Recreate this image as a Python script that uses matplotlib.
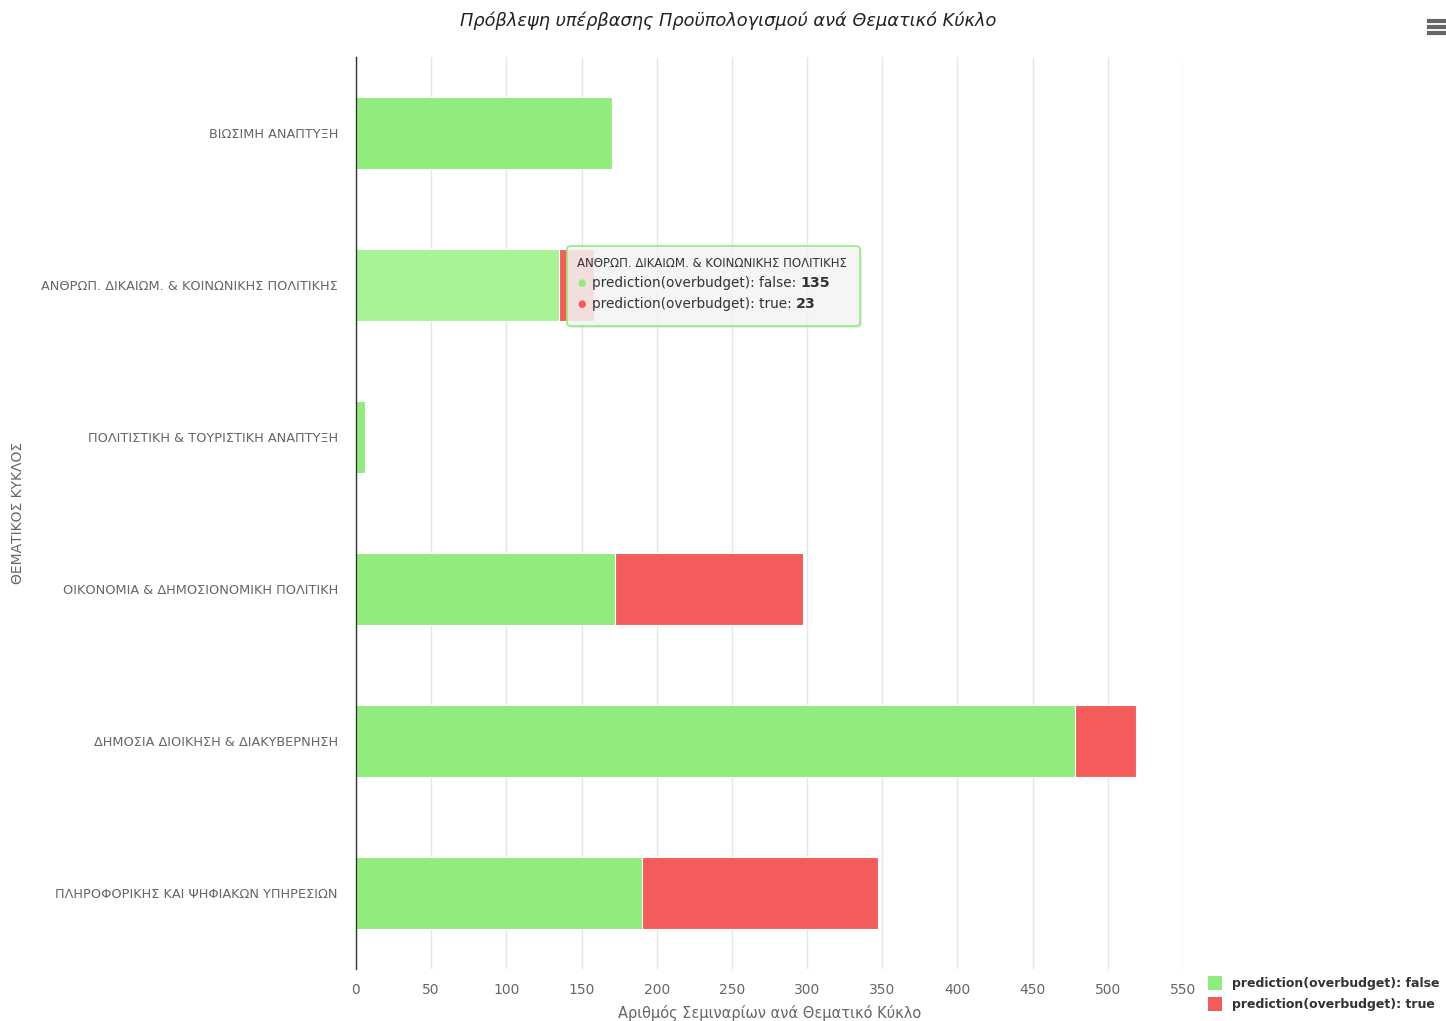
import matplotlib
matplotlib.use("Agg")
import matplotlib.pyplot as plt
from matplotlib.patches import FancyBboxPatch, Rectangle
from matplotlib.lines import Line2D

categories = [
    "ΒΙΩΣΙΜΗ ΑΝΑΠΤΥΞΗ",
    "ΑΝΘΡΩΠ. ΔΙΚΑΙΩΜ. & ΚΟΙΝΩΝΙΚΗΣ ΠΟΛΙΤΙΚΗΣ",
    "ΠΟΛΙΤΙΣΤΙΚΗ & ΤΟΥΡΙΣΤΙΚΗ ΑΝΑΠΤΥΞΗ",
    "ΟΙΚΟΝΟΜΙΑ & ΔΗΜΟΣΙΟΝΟΜΙΚΗ ΠΟΛΙΤΙΚΗ",
    "ΔΗΜΟΣΙΑ ΔΙΟΙΚΗΣΗ & ΔΙΑΚΥΒΕΡΝΗΣΗ",
    "ΠΛΗΡΟΦΟΡΙΚΗΣ ΚΑΙ ΨΗΦΙΑΚΩΝ ΥΠΗΡΕΣΙΩΝ",
]
pred_false = [170, 135, 6, 172, 478, 190]
pred_true = [0, 23, 0, 125, 41, 157]
series_names = ["prediction(overbudget): false", "prediction(overbudget): true"]
xticks = [0, 50, 100, 150, 200, 250, 300, 350, 400, 450, 500, 550]

GREEN = "#90ed7d"
GREEN_HOVER = "#a8f495"
RED = "#f45b5b"
TXT = "#666666"

plt.rcParams['font.family'] = ['DejaVu Sans']

W, H = 1446, 1021
fig = plt.figure(figsize=(W/100, H/100), dpi=100)
ax = fig.add_axes([356/W, 1-969/H, (1183-356)/W, 912/H])

y = list(range(len(categories)))
hover_idx = 1
false_colors = [GREEN_HOVER if i == hover_idx else GREEN for i in y]
ax.barh(y, pred_false, height=0.48, color=false_colors, edgecolor="white", linewidth=0.8, zorder=3)
ax.barh(y, pred_true, left=pred_false, height=0.48, color=RED, edgecolor="white", linewidth=0.8, zorder=3)

ax.set_ylim(len(categories) - 0.5, -0.5)
ax.set_xlim(0, 550)
ax.set_yticks(y)
ax.set_yticklabels(categories, fontsize=9.3, color=TXT)
ax.set_xticks(xticks)
ax.set_xticklabels([str(t) for t in xticks], fontsize=10, color=TXT)
ax.tick_params(axis="y", length=0, pad=13)
ax.tick_params(axis="x", length=0, pad=10)
ax.grid(axis="x", color="#e6e6e6", linewidth=1, zorder=0)
for s in ["top", "right", "bottom"]:
    ax.spines[s].set_visible(False)
ax.spines["left"].set_color("#333333")
ax.spines["left"].set_linewidth(1)
ax.spines["left"].set_zorder(4)

ax.set_xlabel("Αριθμός Σεμιναρίων ανά Θεματικό Κύκλο", fontsize=10.5, color=TXT, labelpad=6)
fig.text(18/W, 1-513/H, "ΘΕΜΑΤΙΚΟΣ ΚΥΚΛΟΣ", rotation=90, fontsize=10, color=TXT,
         ha="center", va="center")

fig.text(728/W, 1-21/H, "Πρόβλεψη υπέρβασης Προϋπολογισμού ανά Θεματικό Κύκλο",
         fontsize=12.8, style="italic", color="#222222", ha="center", va="center")

# menu icon
for yy in [21, 27, 33]:
    fig.add_artist(Line2D([1429/W, 1446/W], [1-yy/H, 1-yy/H], color="#666666",
                          linewidth=3, transform=fig.transFigure))

# legend (manually placed)
for i, (yy, col) in enumerate([(983, GREEN), (1004, RED)]):
    fig.add_artist(Rectangle((1208/W, 1-(yy+7)/H), 14/W, 14/H, transform=fig.transFigure,
                             facecolor=col, edgecolor="none"))
    fig.text(1232/W, 1-yy/H, series_names[i], fontsize=9.0, weight="bold", color="#333333",
             va="center", ha="left")

# tooltip
tx0, ty0, tx1, ty1 = 567, 246, 860, 326
box = FancyBboxPatch((tx0/W, 1-ty1/H), (tx1-tx0)/W, (ty1-ty0)/H,
                     boxstyle="round,pad=0,rounding_size=0.003", transform=fig.transFigure,
                     facecolor=(0.97, 0.97, 0.97, 0.85), edgecolor=GREEN, linewidth=1.2, zorder=10)
shadow = FancyBboxPatch(((tx0+2)/W, 1-(ty1+2)/H), (tx1-tx0)/W, (ty1-ty0)/H,
                        boxstyle="round,pad=0,rounding_size=0.003", transform=fig.transFigure,
                        facecolor=(0, 0, 0, 0.08), edgecolor="none", zorder=9)
fig.add_artist(shadow)
fig.add_artist(box)
fig.text(577/W, 1-263/H, categories[hover_idx], fontsize=8.5, color="#333333", va="center", zorder=11)
for i, (yy, col, val) in enumerate([(283, GREEN, pred_false[hover_idx]), (304, RED, pred_true[hover_idx])]):
    fig.text(577/W, 1-yy/H, "●", fontsize=7, color=col, va="center", zorder=11)
    t = fig.text(592/W, 1-yy/H, series_names[i] + ": ", fontsize=9.8, color="#333333", va="center", zorder=11)
    fig.canvas.draw()
    bb = t.get_window_extent()
    fig.text(bb.x1/W, 1-yy/H, str(val), fontsize=10.3, weight="bold", color="#333333",
             va="center", zorder=11)

fig.savefig("out.png", dpi=100, facecolor="white")
